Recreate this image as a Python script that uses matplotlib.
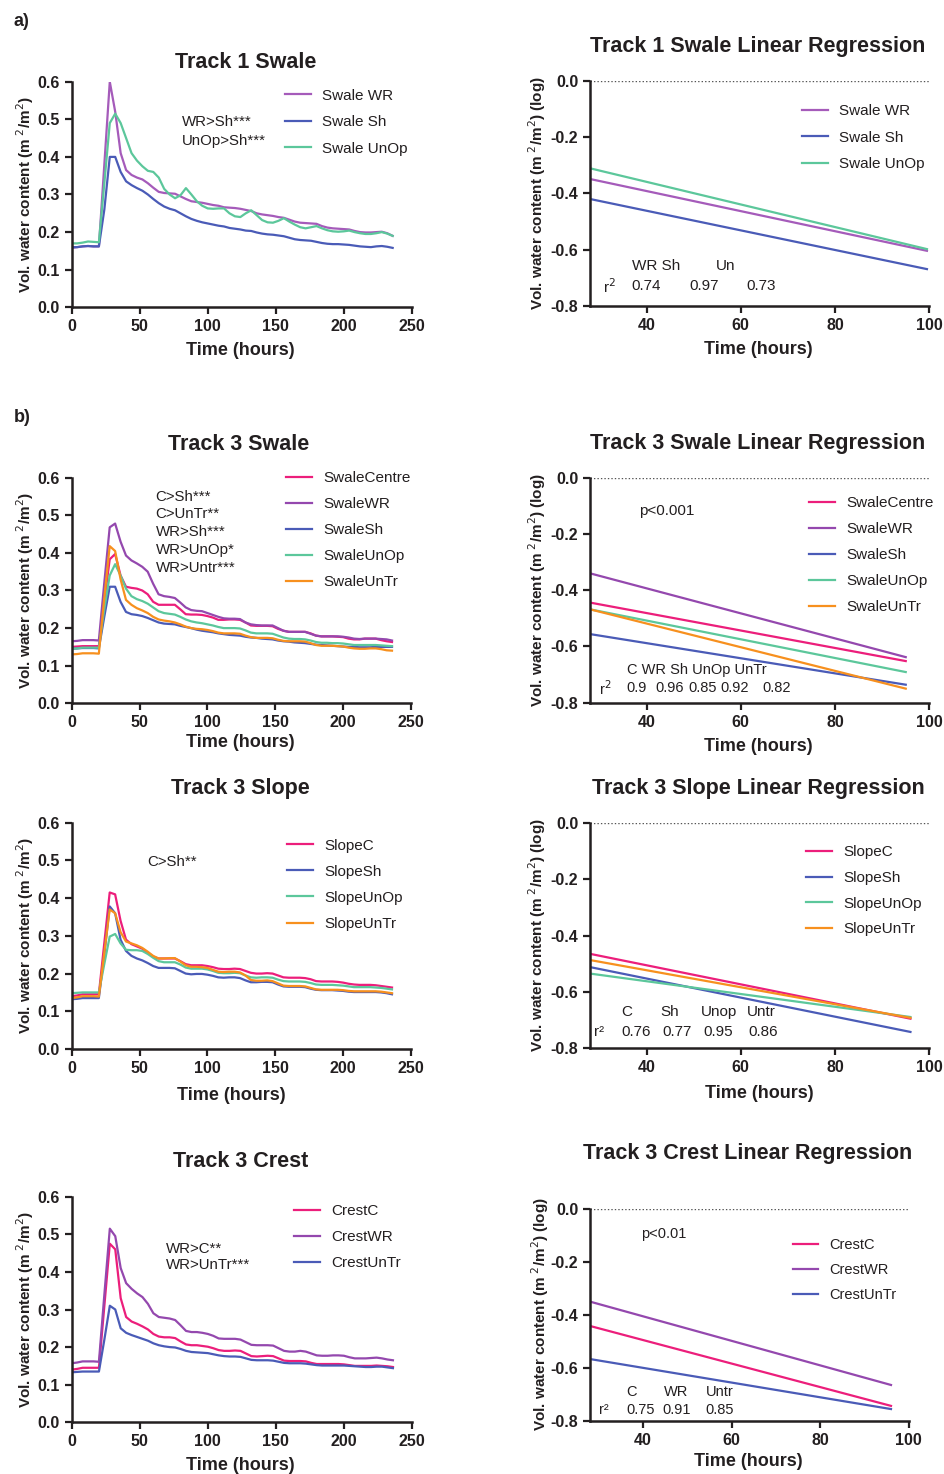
import matplotlib
matplotlib.use("Agg")
import matplotlib.pyplot as plt

plt.rcParams['font.family'] = ['Liberation Sans', 'DejaVu Sans']

# ---------------- data ----------------
hours = list(range(0, 240, 4))

t1_swale_wr = [0.158, 0.160, 0.162, 0.163, 0.162, 0.162, 0.380, 0.600, 0.520, 0.410, 0.365, 0.352, 0.345, 0.340, 0.330, 0.318,
               0.307, 0.304, 0.303, 0.302, 0.295, 0.288, 0.282, 0.280, 0.278, 0.275, 0.272, 0.270, 0.266, 0.265, 0.264, 0.262,
               0.259, 0.256, 0.250, 0.247, 0.245, 0.243, 0.240, 0.238, 0.233, 0.228, 0.225, 0.224, 0.223, 0.222, 0.216, 0.212,
               0.210, 0.209, 0.208, 0.207, 0.203, 0.200, 0.199, 0.199, 0.200, 0.201, 0.197, 0.190]
t1_swale_sh = [0.160, 0.160, 0.162, 0.163, 0.162, 0.162, 0.260, 0.400, 0.400, 0.360, 0.335, 0.325, 0.317, 0.310, 0.300, 0.288,
               0.277, 0.268, 0.262, 0.258, 0.250, 0.242, 0.235, 0.230, 0.226, 0.223, 0.220, 0.217, 0.215, 0.211, 0.209, 0.207,
               0.204, 0.203, 0.199, 0.196, 0.194, 0.193, 0.191, 0.189, 0.185, 0.181, 0.179, 0.178, 0.177, 0.174, 0.171, 0.169,
               0.168, 0.168, 0.167, 0.166, 0.164, 0.162, 0.161, 0.160, 0.162, 0.163, 0.161, 0.158]
t1_swale_unop = [0.170, 0.170, 0.172, 0.175, 0.174, 0.173, 0.330, 0.490, 0.515, 0.490, 0.450, 0.410, 0.390, 0.375, 0.363, 0.360,
                 0.345, 0.315, 0.300, 0.290, 0.298, 0.317, 0.300, 0.282, 0.270, 0.263, 0.262, 0.263, 0.263, 0.250, 0.242, 0.240,
                 0.250, 0.258, 0.245, 0.232, 0.226, 0.225, 0.230, 0.237, 0.228, 0.220, 0.213, 0.210, 0.213, 0.216, 0.210, 0.205,
                 0.202, 0.201, 0.202, 0.204, 0.200, 0.197, 0.195, 0.195, 0.197, 0.200, 0.196, 0.190]

t3_swale_centre = [0.150, 0.151, 0.152, 0.152, 0.152, 0.152, 0.270, 0.383, 0.397, 0.340, 0.310, 0.307, 0.305, 0.300, 0.290, 0.270,
                   0.262, 0.262, 0.262, 0.262, 0.250, 0.237, 0.236, 0.236, 0.235, 0.232, 0.228, 0.222, 0.222, 0.223, 0.223, 0.222,
                   0.215, 0.207, 0.206, 0.206, 0.206, 0.205, 0.198, 0.193, 0.190, 0.190, 0.190, 0.190, 0.186, 0.180, 0.178, 0.178,
                   0.178, 0.177, 0.176, 0.172, 0.170, 0.170, 0.172, 0.172, 0.172, 0.168, 0.165, 0.163]
t3_swale_wr = [0.165, 0.166, 0.168, 0.168, 0.168, 0.167, 0.320, 0.468, 0.478, 0.430, 0.393, 0.380, 0.372, 0.363, 0.350, 0.318,
               0.290, 0.285, 0.283, 0.280, 0.268, 0.255, 0.248, 0.246, 0.245, 0.240, 0.235, 0.230, 0.226, 0.225, 0.225, 0.224,
               0.215, 0.210, 0.208, 0.207, 0.207, 0.207, 0.200, 0.193, 0.190, 0.190, 0.190, 0.190, 0.185, 0.180, 0.178, 0.178,
               0.178, 0.178, 0.177, 0.175, 0.172, 0.171, 0.172, 0.172, 0.172, 0.171, 0.170, 0.167]
t3_swale_sh = [0.145, 0.146, 0.147, 0.147, 0.147, 0.146, 0.230, 0.310, 0.310, 0.270, 0.243, 0.237, 0.235, 0.232, 0.227, 0.221,
               0.215, 0.212, 0.211, 0.210, 0.206, 0.203, 0.200, 0.196, 0.193, 0.191, 0.189, 0.186, 0.184, 0.182, 0.181, 0.180,
               0.177, 0.175, 0.174, 0.172, 0.171, 0.170, 0.167, 0.165, 0.164, 0.162, 0.161, 0.160, 0.158, 0.156, 0.155, 0.154,
               0.153, 0.152, 0.151, 0.150, 0.150, 0.149, 0.149, 0.149, 0.150, 0.150, 0.150, 0.150]
t3_swale_unop = [0.145, 0.146, 0.148, 0.148, 0.148, 0.148, 0.250, 0.340, 0.370, 0.340, 0.305, 0.285, 0.277, 0.272, 0.265, 0.255,
                 0.245, 0.240, 0.238, 0.236, 0.230, 0.223, 0.218, 0.215, 0.213, 0.210, 0.207, 0.203, 0.200, 0.200, 0.200, 0.199,
                 0.194, 0.188, 0.186, 0.186, 0.186, 0.185, 0.180, 0.175, 0.172, 0.171, 0.171, 0.170, 0.167, 0.163, 0.161, 0.161,
                 0.160, 0.160, 0.159, 0.157, 0.155, 0.155, 0.155, 0.155, 0.155, 0.154, 0.153, 0.152]
t3_swale_untr = [0.130, 0.131, 0.133, 0.133, 0.133, 0.132, 0.280, 0.418, 0.405, 0.330, 0.275, 0.262, 0.253, 0.247, 0.240, 0.230,
                 0.223, 0.220, 0.218, 0.215, 0.210, 0.204, 0.200, 0.198, 0.197, 0.195, 0.192, 0.188, 0.186, 0.186, 0.186, 0.185,
                 0.180, 0.176, 0.174, 0.174, 0.174, 0.173, 0.169, 0.166, 0.165, 0.165, 0.165, 0.164, 0.160, 0.155, 0.153, 0.153,
                 0.153, 0.152, 0.151, 0.148, 0.146, 0.145, 0.145, 0.146, 0.146, 0.144, 0.141, 0.140]

t3_slope_c = [0.140, 0.142, 0.145, 0.145, 0.145, 0.145, 0.280, 0.415, 0.410, 0.340, 0.290, 0.278, 0.272, 0.266, 0.255, 0.245,
              0.240, 0.240, 0.240, 0.240, 0.233, 0.225, 0.222, 0.222, 0.222, 0.220, 0.217, 0.213, 0.212, 0.212, 0.213, 0.212,
              0.207, 0.202, 0.200, 0.200, 0.201, 0.200, 0.195, 0.190, 0.189, 0.189, 0.189, 0.188, 0.185, 0.180, 0.179, 0.179,
              0.179, 0.178, 0.176, 0.173, 0.171, 0.170, 0.170, 0.170, 0.169, 0.167, 0.165, 0.163]
t3_slope_sh = [0.132, 0.133, 0.135, 0.135, 0.135, 0.135, 0.250, 0.378, 0.360, 0.290, 0.260, 0.247, 0.240, 0.235, 0.228, 0.220,
               0.215, 0.215, 0.215, 0.214, 0.207, 0.200, 0.198, 0.199, 0.199, 0.197, 0.194, 0.190, 0.189, 0.190, 0.190, 0.188,
               0.182, 0.177, 0.177, 0.178, 0.178, 0.177, 0.171, 0.166, 0.165, 0.165, 0.165, 0.164, 0.160, 0.157, 0.156, 0.156,
               0.156, 0.155, 0.154, 0.152, 0.151, 0.151, 0.151, 0.151, 0.151, 0.150, 0.148, 0.145]
t3_slope_unop = [0.148, 0.149, 0.150, 0.150, 0.150, 0.150, 0.225, 0.298, 0.305, 0.280, 0.263, 0.262, 0.262, 0.260, 0.252, 0.242,
                 0.233, 0.230, 0.230, 0.230, 0.224, 0.216, 0.213, 0.213, 0.213, 0.211, 0.207, 0.202, 0.201, 0.201, 0.202, 0.201,
                 0.195, 0.190, 0.189, 0.190, 0.190, 0.189, 0.184, 0.180, 0.179, 0.179, 0.179, 0.178, 0.175, 0.171, 0.170, 0.170,
                 0.170, 0.169, 0.168, 0.166, 0.164, 0.164, 0.164, 0.164, 0.163, 0.162, 0.160, 0.158]
t3_slope_untr = [0.135, 0.137, 0.140, 0.140, 0.140, 0.139, 0.255, 0.370, 0.360, 0.310, 0.285, 0.280, 0.275, 0.268, 0.258, 0.247,
                 0.240, 0.240, 0.241, 0.241, 0.232, 0.222, 0.218, 0.218, 0.217, 0.215, 0.210, 0.205, 0.204, 0.205, 0.205, 0.203,
                 0.195, 0.183, 0.181, 0.181, 0.182, 0.180, 0.174, 0.168, 0.167, 0.167, 0.167, 0.166, 0.162, 0.158, 0.157, 0.157,
                 0.157, 0.157, 0.156, 0.154, 0.153, 0.153, 0.153, 0.153, 0.153, 0.152, 0.150, 0.148]

t3_crest_c = [0.140, 0.142, 0.145, 0.145, 0.145, 0.145, 0.310, 0.475, 0.460, 0.330, 0.280, 0.268, 0.262, 0.255, 0.247, 0.235,
              0.228, 0.226, 0.226, 0.224, 0.215, 0.207, 0.205, 0.205, 0.203, 0.201, 0.197, 0.192, 0.190, 0.190, 0.191, 0.190,
              0.183, 0.176, 0.175, 0.176, 0.177, 0.176, 0.170, 0.164, 0.163, 0.163, 0.163, 0.162, 0.158, 0.155, 0.155, 0.155,
              0.155, 0.155, 0.154, 0.152, 0.150, 0.150, 0.150, 0.150, 0.151, 0.150, 0.149, 0.147]
t3_crest_wr = [0.157, 0.159, 0.162, 0.162, 0.162, 0.161, 0.340, 0.515, 0.495, 0.410, 0.370, 0.355, 0.343, 0.333, 0.315, 0.290,
               0.280, 0.278, 0.276, 0.272, 0.258, 0.243, 0.240, 0.240, 0.238, 0.235, 0.230, 0.223, 0.222, 0.222, 0.222, 0.220,
               0.213, 0.206, 0.205, 0.205, 0.205, 0.204, 0.197, 0.190, 0.188, 0.188, 0.190, 0.188, 0.183, 0.178, 0.177, 0.177,
               0.178, 0.178, 0.177, 0.173, 0.170, 0.170, 0.170, 0.171, 0.172, 0.170, 0.167, 0.165]
t3_crest_untr = [0.133, 0.134, 0.135, 0.135, 0.135, 0.135, 0.220, 0.310, 0.300, 0.250, 0.238, 0.232, 0.227, 0.222, 0.217, 0.210,
                 0.205, 0.202, 0.200, 0.199, 0.195, 0.190, 0.187, 0.186, 0.185, 0.184, 0.181, 0.178, 0.176, 0.175, 0.175, 0.174,
                 0.170, 0.166, 0.165, 0.165, 0.165, 0.164, 0.161, 0.158, 0.157, 0.157, 0.157, 0.156, 0.154, 0.152, 0.151, 0.151,
                 0.151, 0.151, 0.151, 0.150, 0.149, 0.148, 0.147, 0.147, 0.148, 0.148, 0.146, 0.144]

# regression lines: log10 values at start / end hours
t1_reg_hours = [28, 99.5]
t1_reg_wr = [-0.349, -0.604]
t1_reg_sh = [-0.420, -0.669]
t1_reg_unop = [-0.311, -0.598]

t3_swale_reg_hours = [28, 95]
t3_swale_reg_centre = [-0.444, -0.652]
t3_swale_reg_wr = [-0.340, -0.638]
t3_swale_reg_sh = [-0.556, -0.736]
t3_swale_reg_unop = [-0.468, -0.691]
t3_swale_reg_untr = [-0.468, -0.750]

t3_slope_reg_hours = [28, 96]
t3_slope_reg_c = [-0.465, -0.695]
t3_slope_reg_sh = [-0.512, -0.742]
t3_slope_reg_unop = [-0.535, -0.689]
t3_slope_reg_untr = [-0.487, -0.692]

t3_crest_reg_hours = [28, 96]
t3_crest_reg_c = [-0.442, -0.744]
t3_crest_reg_wr = [-0.350, -0.665]
t3_crest_reg_untr = [-0.567, -0.756]

# ---------------- style ----------------
PINK = '#EC1E7B'
PURPLE = '#9448AE'
PURPLE_L = '#A55BBA'
BLUE = '#4A5BB7'
GREEN = '#5CC79B'
ORANGE = '#F7901E'
TXT = '#231F20'

W, H = 945, 1474
fig = plt.figure(figsize=(W / 100, H / 100), dpi=100)


def fx(x):
    return x / W


def fy(y):
    return 1 - y / H


def make_axes(x0, x1, ytop, ybot):
    ax = fig.add_axes([x0 / W, 1 - ybot / H, (x1 - x0) / W, (ybot - ytop) / H])
    for s in ('top', 'right'):
        ax.spines[s].set_visible(False)
    for s in ('left', 'bottom'):
        ax.spines[s].set_linewidth(1.8)
        ax.spines[s].set_color(TXT)
    ax.tick_params(direction='out', length=5, width=1.6, colors=TXT, labelsize=11.5, pad=3.5)
    return ax


def bold_ticks(ax):
    for lab in ax.get_xticklabels() + ax.get_yticklabels():
        lab.set_fontweight('bold')


def legend(ax, handles, labels, x_line, y_row1, spacing, fs=11):
    fs_px = fs * 100 / 72
    ls = (spacing - 0.91 * fs_px) / fs_px
    top = y_row1 - 0.37 * fs_px - 0.5 * ls * fs_px * 0 - 0.0
    leg = ax.legend(handles, labels, loc='upper left', bbox_to_anchor=(fx(x_line), fy(top)),
                    bbox_transform=fig.transFigure, frameon=False, borderpad=0, borderaxespad=0,
                    handlelength=1.7, handletextpad=0.75, labelspacing=ls, fontsize=fs)
    for t in leg.get_texts():
        t.set_color(TXT)


def title(x, y, s):
    fig.text(fx(x), fy(y), s, ha='center', va='center', fontsize=15.5, fontweight='bold', color=TXT)


def xlabel(x, y):
    fig.text(fx(x), fy(y), 'Time (hours)', ha='center', va='center', fontsize=13, fontweight='bold', color=TXT)


def ylabel(x, y, s):
    fig.text(fx(x), fy(y), s, ha='center', va='center', rotation=90, fontsize=11, fontweight='bold', color=TXT)


def note(x, y, s, fs=10.8):
    fig.text(fx(x), fy(y), s, ha='left', va='center', fontsize=fs, color=TXT)


def ts_axes(x0, x1, ytop, ybot, series):
    ax = make_axes(x0, x1, ytop, ybot)
    hs = []
    for vals, col in series:
        h, = ax.plot(hours, vals, color=col, lw=1.6)
        hs.append(h)
    ax.set_xlim(0, 250)
    ax.set_ylim(0, 0.6)
    ax.set_xticks([0, 50, 100, 150, 200, 250])
    ax.set_yticks([0, 0.1, 0.2, 0.3, 0.4, 0.5, 0.6])
    ax.set_yticklabels(['0.0', '0.1', '0.2', '0.3', '0.4', '0.5', '0.6'])
    bold_ticks(ax)
    return ax, hs


def reg_axes(x0, x1, ytop, ybot, xs, series):
    ax = make_axes(x0, x1, ytop, ybot)
    ax.axhline(0, color='#555555', lw=1.0, ls=(0, (1, 1.5)))
    hs = []
    for vals, col in series:
        h, = ax.plot(xs, vals, color=col, lw=1.6)
        hs.append(h)
    ax.set_xlim(28, 100)
    ax.set_ylim(-0.8, 0.0)
    ax.set_xticks([40, 60, 80, 100])
    ax.set_yticks([-0.8, -0.6, -0.4, -0.2, 0.0])
    ax.set_yticklabels(['-0.8', '-0.6', '-0.4', '-0.2', '0.0'])
    bold_ticks(ax)
    return ax, hs


YL = 'Vol. water content (m$^{\\ 2}$/m$^2$)'
YR = 'Vol. water content (m$^{\\ 2}$/m$^2$) (log)'

# ---------------- a) Track 1 ----------------
fig.text(fx(14), fy(22), 'a)', ha='left', va='center', fontsize=13, fontweight='bold', color=TXT)
ax, hs = ts_axes(71.7, 411.7, 81.7, 307.3, [(t1_swale_wr, PURPLE_L), (t1_swale_sh, BLUE), (t1_swale_unop, GREEN)])
legend(ax, hs, ['Swale WR', 'Swale Sh', 'Swale UnOp'], 285, 94.3, 26.5)
title(246, 62.5, 'Track 1 Swale')
xlabel(240, 350.7)
ylabel(25, 195, YL)
note(182, 121.5, 'WR>Sh***')
note(182, 140.5, 'UnOp>Sh***')

ax, hs = reg_axes(590, 929.3, 80.7, 306, t1_reg_hours, [(t1_reg_wr, PURPLE_L), (t1_reg_sh, BLUE), (t1_reg_unop, GREEN)])
legend(ax, hs, ['Swale WR', 'Swale Sh', 'Swale UnOp'], 801.7, 110, 26.3)
title(758, 46.5, 'Track 1 Swale Linear Regression')
xlabel(758, 350)
ylabel(536.7, 193, YR)
note(631.7, 266, 'WR Sh', 11)
note(715.7, 266, 'Un', 11)
note(603.3, 286.5, 'r$^2$', 11)
for s, x in zip(['0.74', '0.97', '0.73'], [631.7, 689, 746]):
    note(x, 286.5, s, 11)

# ---------------- b) Track 3 Swale ----------------
fig.text(fx(14), fy(417), 'b)', ha='left', va='center', fontsize=13, fontweight='bold', color=TXT)
ax, hs = ts_axes(71.7, 411, 477.7, 703.3, [(t3_swale_centre, PINK), (t3_swale_wr, PURPLE), (t3_swale_sh, BLUE),
                                           (t3_swale_unop, GREEN), (t3_swale_untr, ORANGE)])
legend(ax, hs, ['SwaleCentre', 'SwaleWR', 'SwaleSh', 'SwaleUnOp', 'SwaleUnTr'], 286, 476.7, 26)
title(238.5, 444, 'Track 3 Swale')
xlabel(240, 742.7)
ylabel(25, 590.5, YL)
for i, s in enumerate(['C>Sh***', 'C>UnTr**', 'WR>Sh***', 'WR>UnOp*', 'WR>Untr***']):
    note(155.7, 496.7 + i * 17.8, s)

ax, hs = reg_axes(590, 929.3, 477.7, 702.7, t3_swale_reg_hours,
                  [(t3_swale_reg_centre, PINK), (t3_swale_reg_wr, PURPLE), (t3_swale_reg_sh, BLUE),
                   (t3_swale_reg_unop, GREEN), (t3_swale_reg_untr, ORANGE)])
legend(ax, hs, ['SwaleCentre', 'SwaleWR', 'SwaleSh', 'SwaleUnOp', 'SwaleUnTr'], 809.3, 501.7, 26)
title(758, 444, 'Track 3 Swale Linear Regression')
xlabel(758, 746.7)
ylabel(536.7, 590, YR)
note(639, 511, 'p<0.001', 11)
note(626.7, 670, 'C WR Sh UnOp UnTr', 10.5)
note(599, 688.3, 'r$^2$', 10.5)
for s, x in zip(['0.9', '0.96', '0.85', '0.92', '0.82'], [626.7, 655.7, 688.3, 720, 762.3]):
    note(x, 688.3, s, 10.5)

# ---------------- Track 3 Slope ----------------
ax, hs = ts_axes(71.7, 411, 822.7, 1049, [(t3_slope_c, PINK), (t3_slope_sh, BLUE), (t3_slope_unop, GREEN),
                                         (t3_slope_untr, ORANGE)])
legend(ax, hs, ['SlopeC', 'SlopeSh', 'SlopeUnOp', 'SlopeUnTr'], 287.3, 844.3, 26)
title(240.8, 789, 'Track 3 Slope')
xlabel(231, 1095.7)
ylabel(25, 936, YL)
note(147, 862.3, 'C>Sh**')

ax, hs = reg_axes(590, 929.3, 822.7, 1048.3, t3_slope_reg_hours,
                  [(t3_slope_reg_c, PINK), (t3_slope_reg_sh, BLUE), (t3_slope_reg_unop, GREEN),
                   (t3_slope_reg_untr, ORANGE)])
legend(ax, hs, ['SlopeC', 'SlopeSh', 'SlopeUnOp', 'SlopeUnTr'], 806, 851, 25.6)
title(758, 789, 'Track 3 Slope Linear Regression')
xlabel(759, 1093.3)
ylabel(536.7, 935, YR)
for s, x in zip(['C', 'Sh', 'Unop', 'Untr'], [621.7, 660, 701, 747.3]):
    note(x, 1012.3, s, 11)
note(594, 1031.7, 'r²', 11)
for s, x in zip(['0.76', '0.77', '0.95', '0.86'], [621.7, 662.7, 703.3, 748.3]):
    note(x, 1031.7, s, 11)

# ---------------- Track 3 Crest ----------------
ax, hs = ts_axes(71.7, 412, 1196.7, 1422.3, [(t3_crest_c, PINK), (t3_crest_wr, PURPLE), (t3_crest_untr, BLUE)])
legend(ax, hs, ['CrestC', 'CrestWR', 'CrestUnTr'], 294, 1210, 25.8)
title(241, 1161.7, 'Track 3 Crest')
xlabel(240, 1465)
ylabel(25, 1310, YL)
note(166, 1249, 'WR>C**')
note(166, 1265, 'WR>UnTr***')

ax, hs = reg_axes(590, 908.7, 1209, 1420.7, t3_crest_reg_hours,
                  [(t3_crest_reg_c, PINK), (t3_crest_reg_wr, PURPLE), (t3_crest_reg_untr, BLUE)])
legend(ax, hs, ['CrestC', 'CrestWR', 'CrestUnTr'], 793.3, 1243.3, 24.2, fs=10.5)
title(747.5, 1153.3, 'Track 3 Crest Linear Regression')
xlabel(748, 1461.7)
ylabel(540, 1314, YR)
note(641, 1234, 'p<0.01', 10.5)
for s, x in zip(['C', 'WR', 'Untr'], [626, 664.3, 705.7]):
    note(x, 1391.7, s, 10.5)
note(599, 1410, 'r²', 10.5)
for s, x in zip(['0.75', '0.91', '0.85'], [626, 662.3, 705.7]):
    note(x, 1410, s, 10.5)

fig.savefig('out.png', dpi=100)
